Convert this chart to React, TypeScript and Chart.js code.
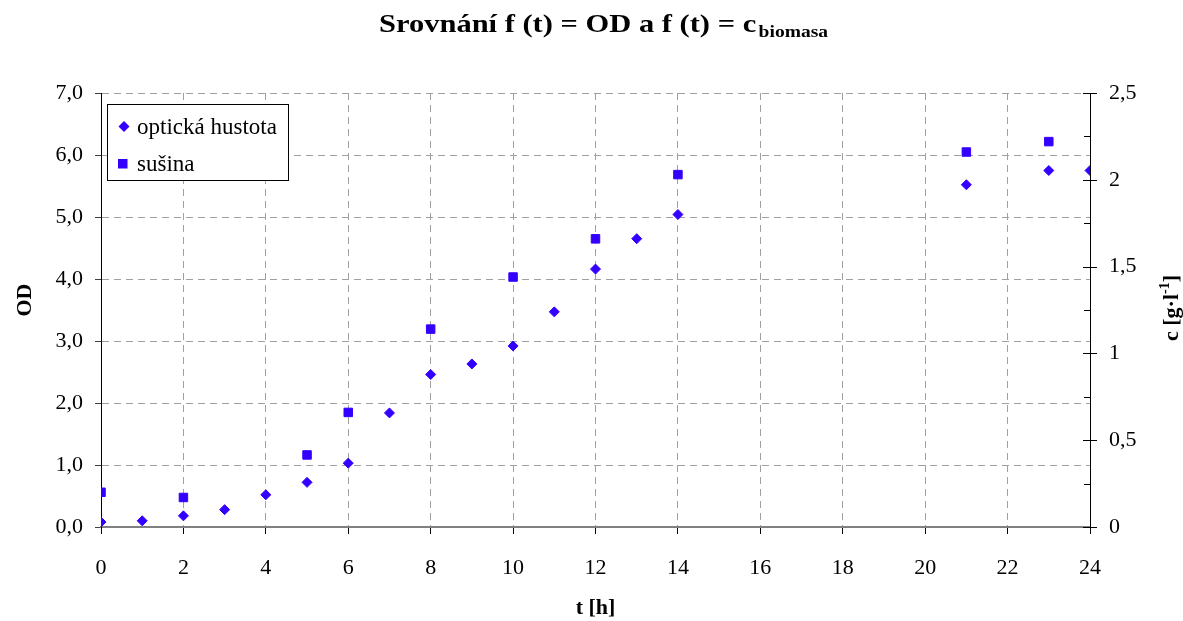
import { useEffect, useRef } from "react";
import { Chart, registerables } from "chart.js";

Chart.register(...registerables);

// Sampling times [h] and optical density readings
const hours = [0, 1, 2, 3, 4, 5, 6, 7, 8, 9, 10, 11, 12, 13, 14, 21, 23, 24];
const opticalDensity = [0.08, 0.1, 0.18, 0.28, 0.52, 0.72, 1.03, 1.84, 2.46, 2.63, 2.92, 3.47, 4.16, 4.65, 5.04, 5.52, 5.75, 5.75];

// Dry-mass samples [h] and biomass concentration [g/l]
const dryHours = [0, 2, 5, 6, 8, 10, 12, 14, 21, 23];
const dryMass = [0.2, 0.17, 0.415, 0.66, 1.14, 1.44, 1.66, 2.03, 2.16, 2.22];

const TITLE = "Srovnání f (t) = OD a f (t) = c";
const TITLE_SUB = "biomasa";
const SERIES_LABELS = ["optická hustota", "sušina"];
const X_TITLE = "t [h]";
const Y_TITLE = "OD";
const Y1_TITLE = "c [g·l";
const Y1_SUP = "-1";
const Y1_END = "]";

const FONT = '"Liberation Serif", "Times New Roman", serif';
const MARK = "#3300ff";
const GRID = "#a0a0a0";

const decor = {
  id: "decor",
  afterDraw(chart: any) {
    const { ctx, chartArea, scales } = chart;
    ctx.save();

    // right axis: major ticks cross the axis, minor ticks point inward
    const y1 = scales.y1;
    ctx.strokeStyle = "#000";
    ctx.lineWidth = 1;
    for (let i = 0; i <= 10; i++) {
      const v = i * 0.25;
      const y = Math.round(y1.getPixelForValue(v)) + 0.5;
      const major = i % 2 === 0;
      ctx.beginPath();
      ctx.moveTo(chartArea.right - (major ? 7 : 6), y);
      ctx.lineTo(chartArea.right + (major ? 7 : 0), y);
      ctx.stroke();
    }

    ctx.fillStyle = "#000";
    ctx.textBaseline = "alphabetic";

    // title with subscript
    const mainFont = `bold 25px ${FONT}`;
    const subFont = `bold 16px ${FONT}`;
    ctx.font = mainFont;
    const wMain = ctx.measureText(TITLE).width;
    ctx.font = subFont;
    const wSub = ctx.measureText(TITLE_SUB).width;
    const titleWidth = 449;
    const sx = titleWidth / (wMain + 2 + wSub);
    ctx.save();
    ctx.translate(603.5 - titleWidth / 2, 0);
    ctx.scale(sx, 1);
    ctx.font = mainFont;
    ctx.fillText(TITLE, 0, 32);
    ctx.font = subFont;
    ctx.fillText(TITLE_SUB, wMain + 2, 37);
    ctx.restore();

    // x axis title
    ctx.font = `bold 22px ${FONT}`;
    ctx.textAlign = "center";
    ctx.fillText(X_TITLE, (chartArea.left + chartArea.right) / 2, 614);

    // left axis title
    ctx.save();
    ctx.translate(31, 300);
    ctx.rotate(-Math.PI / 2);
    ctx.fillText(Y_TITLE, 0, 0);
    ctx.restore();

    // right axis title with superscript
    ctx.save();
    ctx.translate(1178, 308);
    ctx.rotate(-Math.PI / 2);
    ctx.textAlign = "left";
    ctx.font = `bold 22px ${FONT}`;
    const wA = ctx.measureText(Y1_TITLE).width;
    ctx.font = `bold 14px ${FONT}`;
    const wS = ctx.measureText(Y1_SUP).width;
    ctx.font = `bold 22px ${FONT}`;
    const wE = ctx.measureText(Y1_END).width;
    const total = wA + wS + wE;
    const x0 = -total / 2;
    ctx.fillText(Y1_TITLE, x0, 0);
    ctx.font = `bold 14px ${FONT}`;
    ctx.fillText(Y1_SUP, x0 + wA, -9);
    ctx.font = `bold 22px ${FONT}`;
    ctx.fillText(Y1_END, x0 + wA + wS, 0);
    ctx.restore();

    // legend
    ctx.textAlign = "left";
    ctx.fillStyle = "#fff";
    ctx.fillRect(107.5, 104.5, 181, 76);
    ctx.strokeStyle = "#000";
    ctx.strokeRect(107.5, 104.5, 181, 76);
    ctx.fillStyle = MARK;
    ctx.beginPath();
    ctx.moveTo(124, 121);
    ctx.lineTo(129.5, 126.5);
    ctx.lineTo(124, 132);
    ctx.lineTo(118.5, 126.5);
    ctx.closePath();
    ctx.fill();
    ctx.fillRect(118, 159, 9.5, 9.5);
    ctx.fillStyle = "#000";
    ctx.font = `23px ${FONT}`;
    ctx.fillText(SERIES_LABELS[0], 137, 134);
    ctx.fillText(SERIES_LABELS[1], 137, 171);

    ctx.restore();
  },
};

export default function App() {
  const ref = useRef<HTMLCanvasElement | null>(null);

  useEffect(() => {
    if (!ref.current) return;
    const tickFont = { family: FONT, size: 22 };
    const chart = new Chart(ref.current, {
      type: "scatter",
      data: {
        datasets: [
          {
            label: SERIES_LABELS[0],
            data: hours.map((t, i) => ({ x: t, y: opticalDensity[i] })),
            yAxisID: "y",
            pointStyle: "rectRot",
            pointRadius: 5,
            borderWidth: 1,
            backgroundColor: MARK,
            borderColor: MARK,
          },
          {
            label: SERIES_LABELS[1],
            data: dryHours.map((t, i) => ({ x: t, y: dryMass[i] })),
            yAxisID: "y1",
            pointStyle: "rect",
            pointRadius: 6,
            borderWidth: 1,
            backgroundColor: MARK,
            borderColor: MARK,
          },
        ],
      },
      options: {
        animation: false,
        responsive: true,
        maintainAspectRatio: false,
        layout: { padding: { top: 93, left: 0, right: 0, bottom: 0 } },
        plugins: {
          legend: { display: false },
          title: { display: false },
          tooltip: { enabled: false },
        },
        scales: {
          x: {
            type: "linear",
            min: 0,
            max: 24,
            afterFit: (s: any) => {
              s.height = 94;
            },
            ticks: { stepSize: 2, font: tickFont, color: "#000", padding: 21, maxRotation: 0, autoSkip: false },
            grid: { color: GRID, tickColor: "#000", tickLength: 7, lineWidth: 1 },
            border: { color: "#808080", width: 2, dash: [7, 5] },
          },
          y: {
            type: "linear",
            position: "left",
            min: 0,
            max: 7,
            afterFit: (s: any) => {
              s.width = 101;
            },
            ticks: {
              stepSize: 1,
              font: tickFont,
              color: "#000",
              padding: 12,
              callback: (v: any) => Number(v).toFixed(1).replace(".", ","),
            },
            grid: { color: GRID, tickColor: "#404040", tickLength: 6, lineWidth: 1 },
            border: { color: "#000", width: 1, dash: [7, 5] },
          },
          y1: {
            type: "linear",
            position: "right",
            min: 0,
            max: 2.5,
            afterFit: (s: any) => {
              s.width = 93;
            },
            ticks: {
              stepSize: 0.5,
              font: tickFont,
              color: "#000",
              padding: 19,
              callback: (v: any) => String(v).replace(".", ","),
            },
            grid: { display: true, drawOnChartArea: false, drawTicks: false },
            border: { color: "#000", width: 1 },
          },
        },
      },
      plugins: [decor],
    });
    return () => chart.destroy();
  }, []);

  return (
    <div style={{ position: "fixed", left: 0, top: 0, width: 1183, height: 621, background: "#fff" }}>
      <canvas ref={ref} />
    </div>
  );
}
